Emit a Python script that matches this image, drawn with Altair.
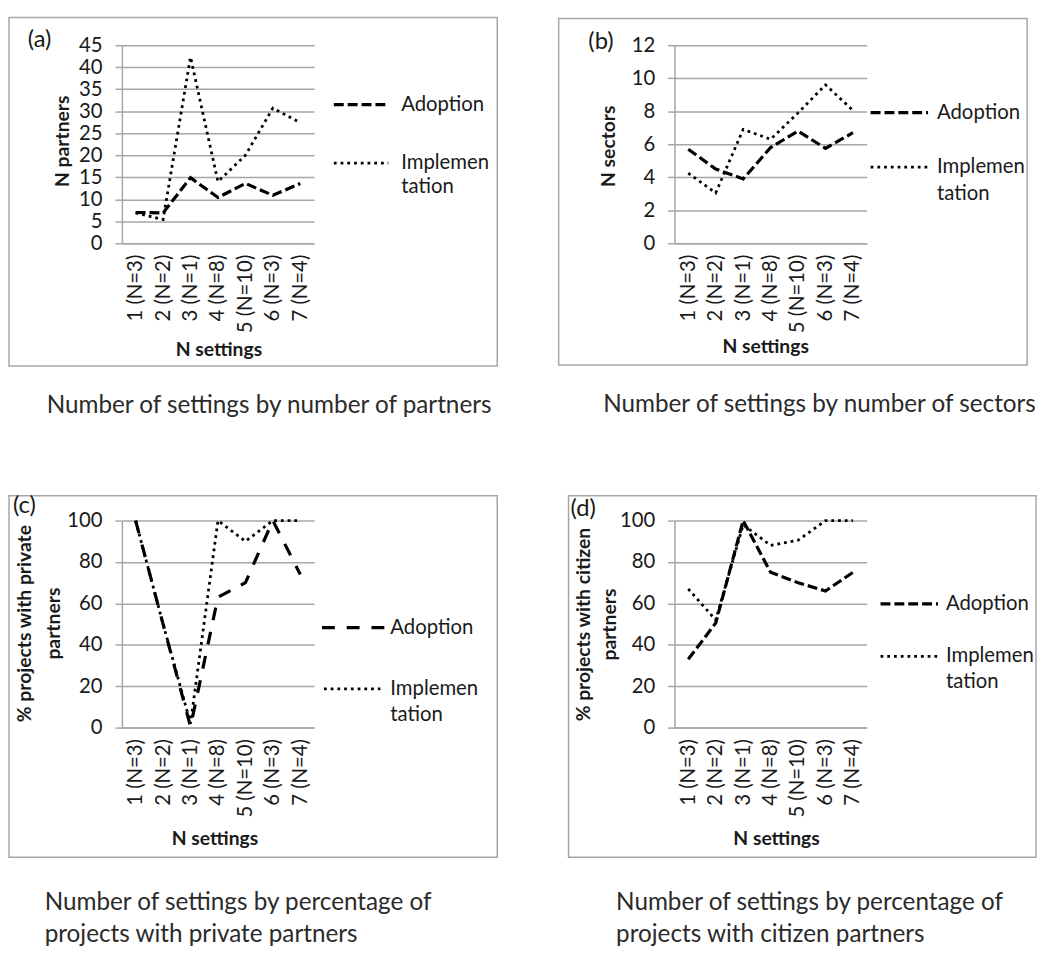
import altair as alt
import pandas as pd

# ---------------- data ----------------
categories = ["1 (N=3)", "2 (N=2)", "3 (N=1)", "4 (N=8)", "5 (N=10)", "6 (N=3)", "7 (N=4)"]

a_adoption = [7, 6.9, 14.9, 10.4, 13.6, 10.9, 13.6]
a_implementation = [6.9, 5.4, 42.3, 14, 20, 30.7, 27.4]

b_adoption = [5.7, 4.5, 3.9, 5.8, 6.8, 5.75, 6.7]
b_implementation = [4.25, 3.05, 6.9, 6.3, 7.9, 9.6, 8.05]

c_adoption = [100, 50, 0.5, 63, 70, 100, 74]
c_implementation = [100, 50, 2, 100, 90, 100, 100]

d_adoption = [33, 50.5, 100, 75, 70, 66, 75]
d_implementation = [67, 52, 98, 88, 90.5, 100, 100]

series_names = ["Adoption", "Implementation"]
panel_labels = ["(a)", "(b)", "(c)", "(d)"]
y_titles = [["N partners"], ["N sectors"],
            ["% projects with private", "partners"],
            ["% projects with citizen", "partners"]]
x_title = "N settings"
captions = [["Number of settings by number of partners"],
            ["Number of settings by number of sectors"],
            ["Number of settings by percentage of", "projects with private partners"],
            ["Number of settings by percentage of", "projects with citizen partners"]]
y_max = [45, 12, 100, 100]
y_step = [5, 2, 20, 20]

FONT = "Lato"
GRAY = "#a6a6a6"
TXT = "#1a1a1a"
ONE = pd.DataFrame({"k": [0]})


def line_df(adopt, impl):
    rows = []
    for s, vals in zip(series_names, [adopt, impl]):
        for c, v in zip(categories, vals):
            rows.append({"cat": c, "value": v, "series": s})
    return pd.DataFrame(rows)


def txt(t, x, y, size, bold=False, angle=0, align="left", color=TXT):
    return alt.Chart(ONE).mark_text(
        text=t, font=FONT, fontSize=size, fontWeight="bold" if bold else "normal",
        angle=angle, align=align, baseline="middle", color=color
    ).encode(x=alt.value(x), y=alt.value(y))


def rule(x1, x2, y, dash, width):
    return alt.Chart(ONE).mark_rule(color="black", strokeDash=dash, strokeWidth=width).encode(
        x=alt.value(x1), x2=alt.value(x2), y=alt.value(y))


def panel(i, adopt, impl, w, h, frame, lab, ytitle_pos, xtitle_pos, leg, cap, adopt_dash):
    df = line_df(adopt, impl)
    xs = alt.X("cat:N", sort=categories, scale=alt.Scale(type="point", padding=0.5),
               axis=alt.Axis(title=None, labelAngle=270, ticks=False, grid=False,
                             domainColor=GRAY, domainWidth=1.5, labelPadding=11,
                             labelFont=FONT, labelFontSize=20.5, labelColor=TXT))
    ys = alt.Y("value:Q", scale=alt.Scale(domain=[0, y_max[i]], nice=False),
               axis=alt.Axis(title=None, values=list(range(0, y_max[i] + 1, y_step[i])),
                             grid=True, gridColor=GRAY, gridWidth=1.5,
                             domainColor=GRAY, domainWidth=1.5, tickColor=GRAY,
                             tickWidth=1.5, tickSize=7, labelPadding=13,
                             labelFont=FONT, labelFontSize=20.5, labelColor=TXT))
    base = alt.Chart(df)
    adopt_line = base.transform_filter(alt.datum.series == "Adoption").mark_line(
        color="black", strokeWidth=3.2, strokeDash=adopt_dash).encode(x=xs, y=ys)
    impl_line = base.transform_filter(alt.datum.series == "Implementation").mark_line(
        color="black", strokeWidth=2.8, strokeDash=[2.8, 4.0]).encode(x=xs, y=ys)

    fx1, fx2, fy1, fy2 = frame
    frame_mark = alt.Chart(ONE).mark_rect(
        fillOpacity=0, stroke=GRAY, strokeWidth=1.5).encode(
        x=alt.value(fx1), x2=alt.value(fx2), y=alt.value(fy1), y2=alt.value(fy2))

    layers = [frame_mark, adopt_line, impl_line]
    layers.append(txt(panel_labels[i], lab[0], lab[1], 24))
    for t, (x, y) in zip(y_titles[i], ytitle_pos):
        layers.append(txt(t, x, y, 19.5, bold=True, angle=270, align="center"))
    layers.append(txt(x_title, xtitle_pos[0], xtitle_pos[1], 19.5, bold=True, align="center"))
    # legend
    lx1, lx2, ly_a, ly_i, ltx, ly_t, lx1i, lx2i = leg
    layers.append(rule(lx1, lx2, ly_a, adopt_dash, 3.2))
    layers.append(rule(lx1i, lx2i, ly_i, [2.8, 4.0], 2.8))
    layers.append(txt(series_names[0], ltx, ly_a, 20.5))
    layers.append(txt("Implemen", ltx, ly_i, 20.5))
    layers.append(txt("tation", ltx, ly_t, 20.5))
    for t, (x, y) in zip(captions[i], cap):
        layers.append(txt(t, x, y, 24.5, color="#2b2b2b"))
    return alt.layer(*layers).properties(width=w, height=h)


DASH = [10, 4]
pa = panel(0, a_adoption, a_implementation, 194, 200,
           (-114, 379, -28, 324), (-95, -5), [(-59, 97)], (98, 308),
           (214, 269, 60, 119, 282, 143, 214, 269),
           [(-76, 364)], DASH)
pb = panel(1, b_adoption, b_implementation, 194, 200,
           (-117, 356, -27, 323), (-87, -3), [(-66, 102)], (92, 305),
           (198, 256, 68, 123, 265, 150, 198, 256),
           [(-72, 363)], DASH)
pc = panel(2, c_adoption, c_implementation, 194, 209,
           (-114, 379, -25, 340), (-110, -15), [(-98, 104), (-69, 104)], (94, 322),
           (202, 266, 108, 170, 271, 196, 204, 261),
           [(-78, 386), (-78, 418)], [13, 12])
pd_ = panel(3, d_adoption, d_implementation, 194, 209,
            (-107, 365, -25, 340), (-105, -12), [(-91, 105), (-65, 105)], (103, 322),
            (208, 266, 84, 137, 274, 163, 208, 266),
            [(-59, 386), (-59, 418)], DASH)

chart = alt.concat(pa, pb, pc, pd_, columns=2,
                   spacing={"row": 280, "column": 364}, bounds="flush").configure_view(
    stroke=None).properties(
    padding={"left": 0, "top": 4, "right": 0, "bottom": 0}, background="white")

chart.save("out.html", embed_options={"renderer": "svg", "actions": False})
